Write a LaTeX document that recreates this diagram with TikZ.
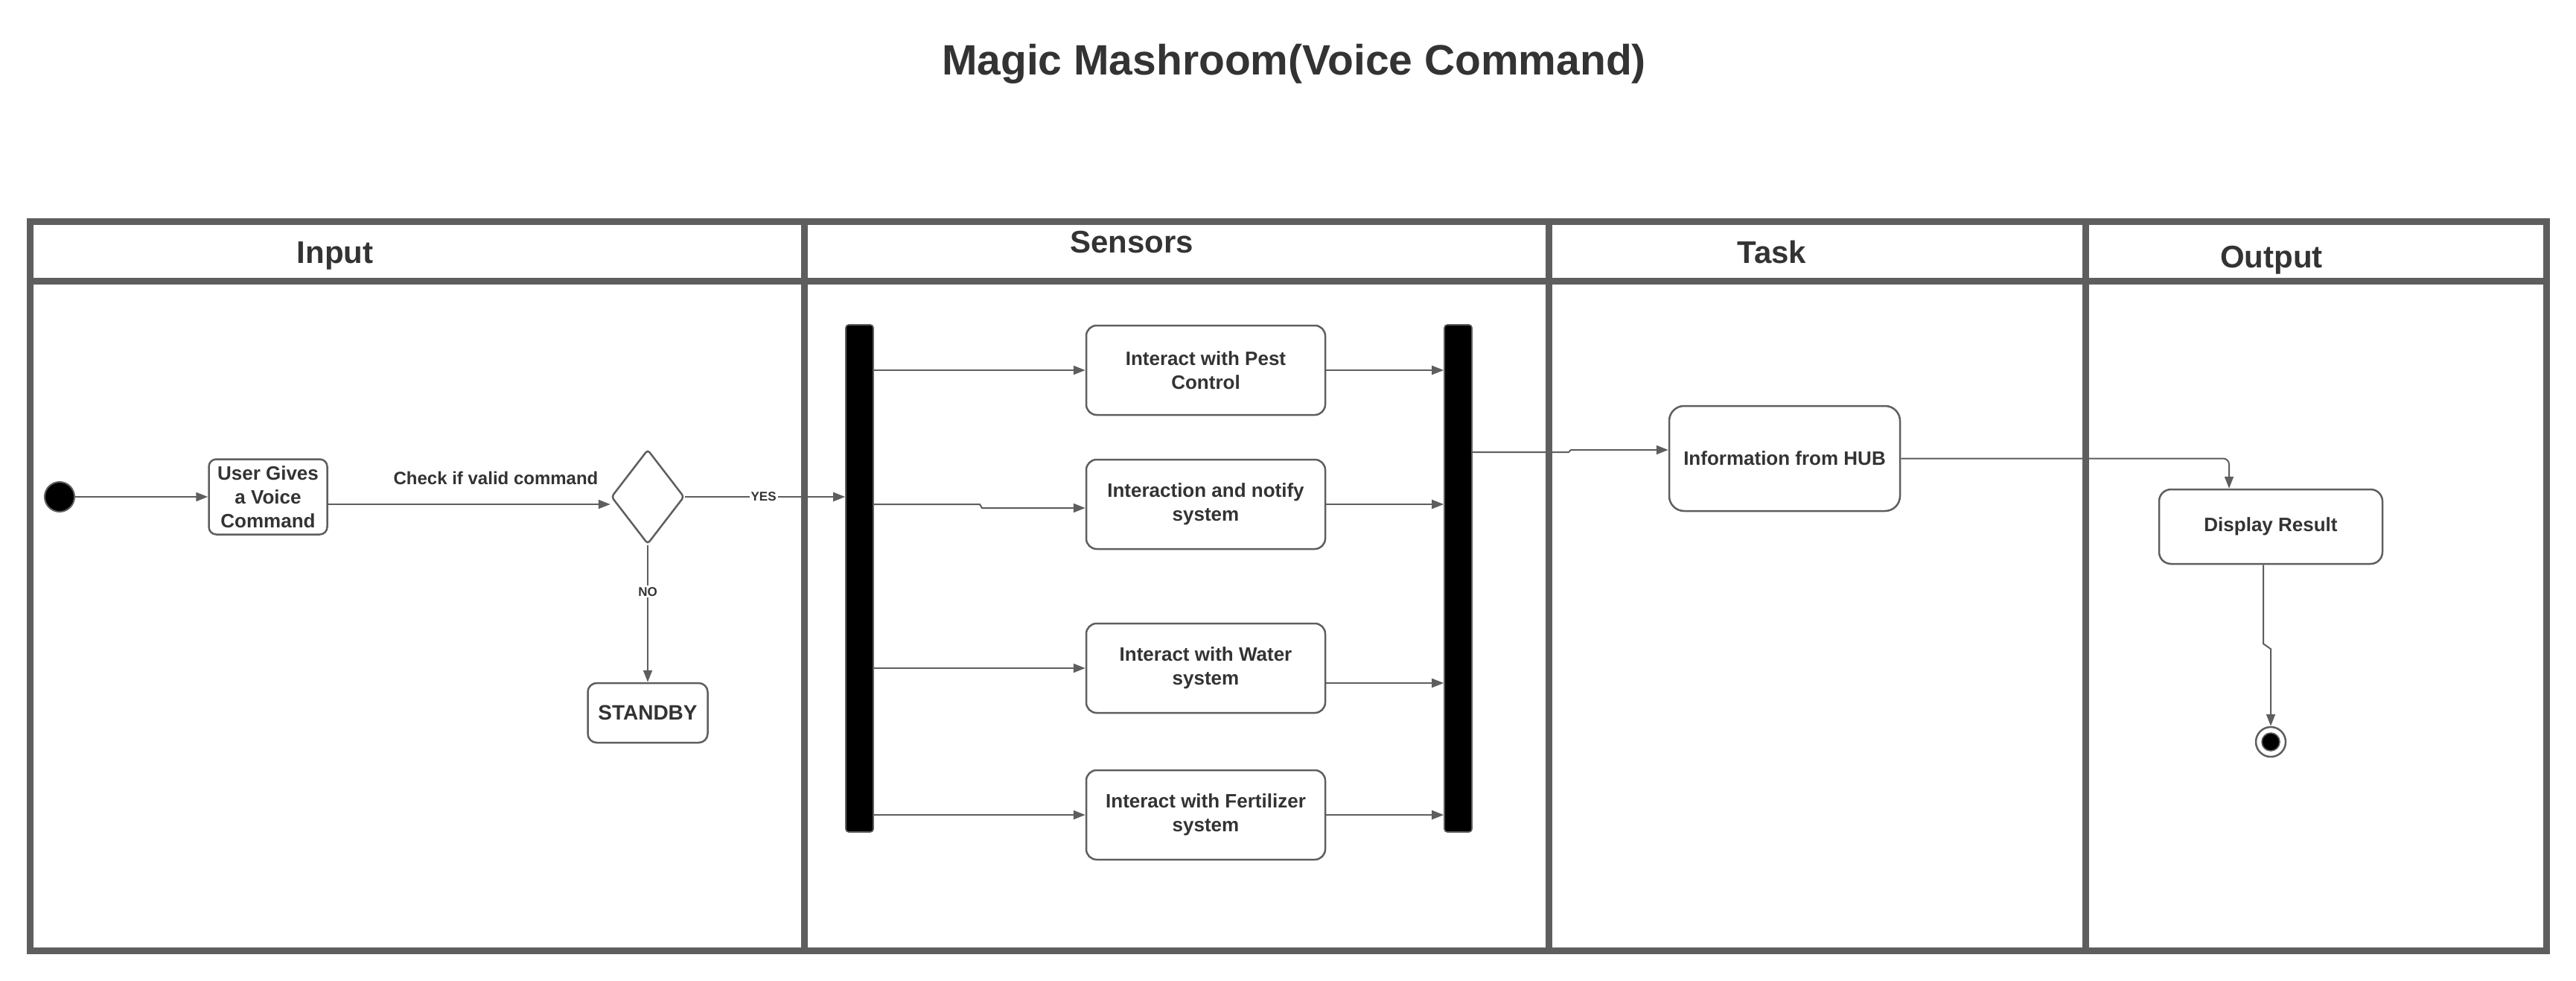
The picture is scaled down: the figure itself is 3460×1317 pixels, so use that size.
\documentclass[tikz,border=0pt]{standalone}
\usepackage{fontspec}
\setmainfont{Liberation Sans}
\usetikzlibrary{arrows.meta,shapes.geometric}
\definecolor{lgray}{HTML}{5E5E5E}
\definecolor{tcol}{HTML}{333333}
\newcommand{\mmact}{\fontsize{13}{16}\selectfont\bfseries}
\newcommand{\mmhdr}{\fontsize{21}{25}\selectfont\bfseries}
\newcommand{\mmsmall}{\fontsize{8.5}{10}\selectfont\bfseries}
\begin{document}
\begin{tikzpicture}[x=0.5pt,y=-0.5pt,
  frame/.style={draw=lgray, line width=4.5pt},
  ln/.style={draw=lgray, line width=1pt},
  arr/.style={ln, -{Triangle[length=8pt,width=6pt]}},
  act/.style={draw=lgray, line width=1.25pt, rounded corners=7pt, align=center, font=\mmact, text=tcol, inner sep=0pt},
  hdr/.style={font=\mmhdr, text=tcol, anchor=base},
  bar/.style={draw=lgray, fill=black, line width=0.8pt, rounded corners=2pt, minimum width=18.5pt, minimum height=340.5pt, inner sep=0pt},
  lbl/.style={font=\mmsmall, text=tcol, fill=white, inner sep=1pt}
]
\useasboundingbox (0,0) rectangle (3460,1317);
% title
\node[anchor=base, font=\fontsize{28.5}{34}\selectfont\bfseries, text=tcol] (title) at (1738,100) {Magic Mashroom(Voice Command)};
% swimlane frame
\draw[frame] (40,297) rectangle (3420,1276);
\draw[frame] (40,377) -- (3420,377);
\foreach \xx in {1080,2080,2801} \draw[frame] (\xx,297) -- (\xx,1276);
% headers
\node[hdr] (hInput) at (450,353) {Input};
\node[hdr] (hSensors) at (1520,339) {Sensors};
\node[hdr] (hTask) at (2380,353) {Task};
\node[hdr] (hOutput) at (3051,359) {Output};
% input lane
\node[circle, fill=black, draw=lgray, line width=1pt, minimum size=20pt, inner sep=0pt] (start) at (80,667) {};
\node[act, minimum width=79.5pt, minimum height=50.5pt, rounded corners=5pt] (user) at (360,667) {User Gives\\a Voice\\Command};
\node[diamond, draw=lgray, line width=1.25pt, minimum width=49pt, minimum height=63.5pt, inner sep=0pt, rounded corners=2pt] (dec) at (870,667) {};
\node[act, minimum width=80.5pt, minimum height=40pt, font=\fontsize{14}{17}\selectfont\bfseries, rounded corners=6pt] (standby) at (870,957) {STANDBY};
\node[anchor=base, font=\fontsize{12}{14}\selectfont\bfseries, text=tcol] (chk) at (666,650) {Check if valid command};
% sensors lane
\node[bar] (fork1) at (1154.5,776.5) {};
\node[bar] (fork2) at (1958.5,776.5) {};
\node[act, minimum width=160.5pt, minimum height=60pt] (pest) at (1619.5,497) {Interact with Pest\\Control};
\node[act, minimum width=160.5pt, minimum height=60pt] (notify) at (1619.5,677) {Interaction and notify\\system};
\node[act, minimum width=160.5pt, minimum height=60pt] (water) at (1619.5,897) {Interact with Water\\system};
\node[act, minimum width=160.5pt, minimum height=60pt] (fert) at (1619.5,1094) {Interact with Fertilizer\\system};
% task lane
\node[act, minimum width=155pt, minimum height=70.5pt, rounded corners=10pt] (hub) at (2397,615.5) {Information from HUB};
% output lane
\node[act, minimum width=150pt, minimum height=50pt, rounded corners=8pt] (display) at (3050,707) {Display Result};
\node[circle, draw=lgray, line width=1.25pt, minimum size=20pt, inner sep=0pt] (end) at (3050,996) {};
\node[circle, fill=black, draw=lgray, line width=0.8pt, minimum size=12pt, inner sep=0pt] (endin) at (end) {};
% connectors
\draw[arr] (start) -- (user);
\draw[arr] ([yshift=-5pt]user.east) -- ([yshift=-5pt]dec.west);
\draw[arr] (dec.east) -- (fork1.west |- dec.east) node[lbl, pos=0.49] {YES};
\draw[arr] (dec.south) -- (standby.north) node[lbl, pos=0.34] {NO};
\draw[arr] (fork1.east |- pest.west) -- (pest.west);
\draw[arr] (fork1.east |- notify.west) -- (1316,677) -- (1319,682) -- ([yshift=-2.5pt]notify.west);
\draw[arr] (fork1.east |- water.west) -- (water.west);
\draw[arr] (fork1.east |- fert.west) -- (fert.west);
\draw[arr] (pest.east) -- (pest.east -| fork2.west);
\draw[arr] (notify.east) -- (notify.east -| fork2.west);
\draw[arr] ([yshift=-10pt]water.east) -- ([yshift=-10pt]water.east -| fork2.west);
\draw[arr] (fert.east) -- (fert.east -| fork2.west);
\draw[arr] ([yshift=84.75pt]fork2.east) -- (2107,607) -- (2110,604) -- ([yshift=5.75pt]hub.west);
\draw[arr, rounded corners=4pt] (hub.east) -| ([xshift=-28pt]display.north);
\draw[arr] ([xshift=-5pt]display.south) -- ++(0,106) -- ++(10,7) -- (end.north);
\end{tikzpicture}
\end{document}
